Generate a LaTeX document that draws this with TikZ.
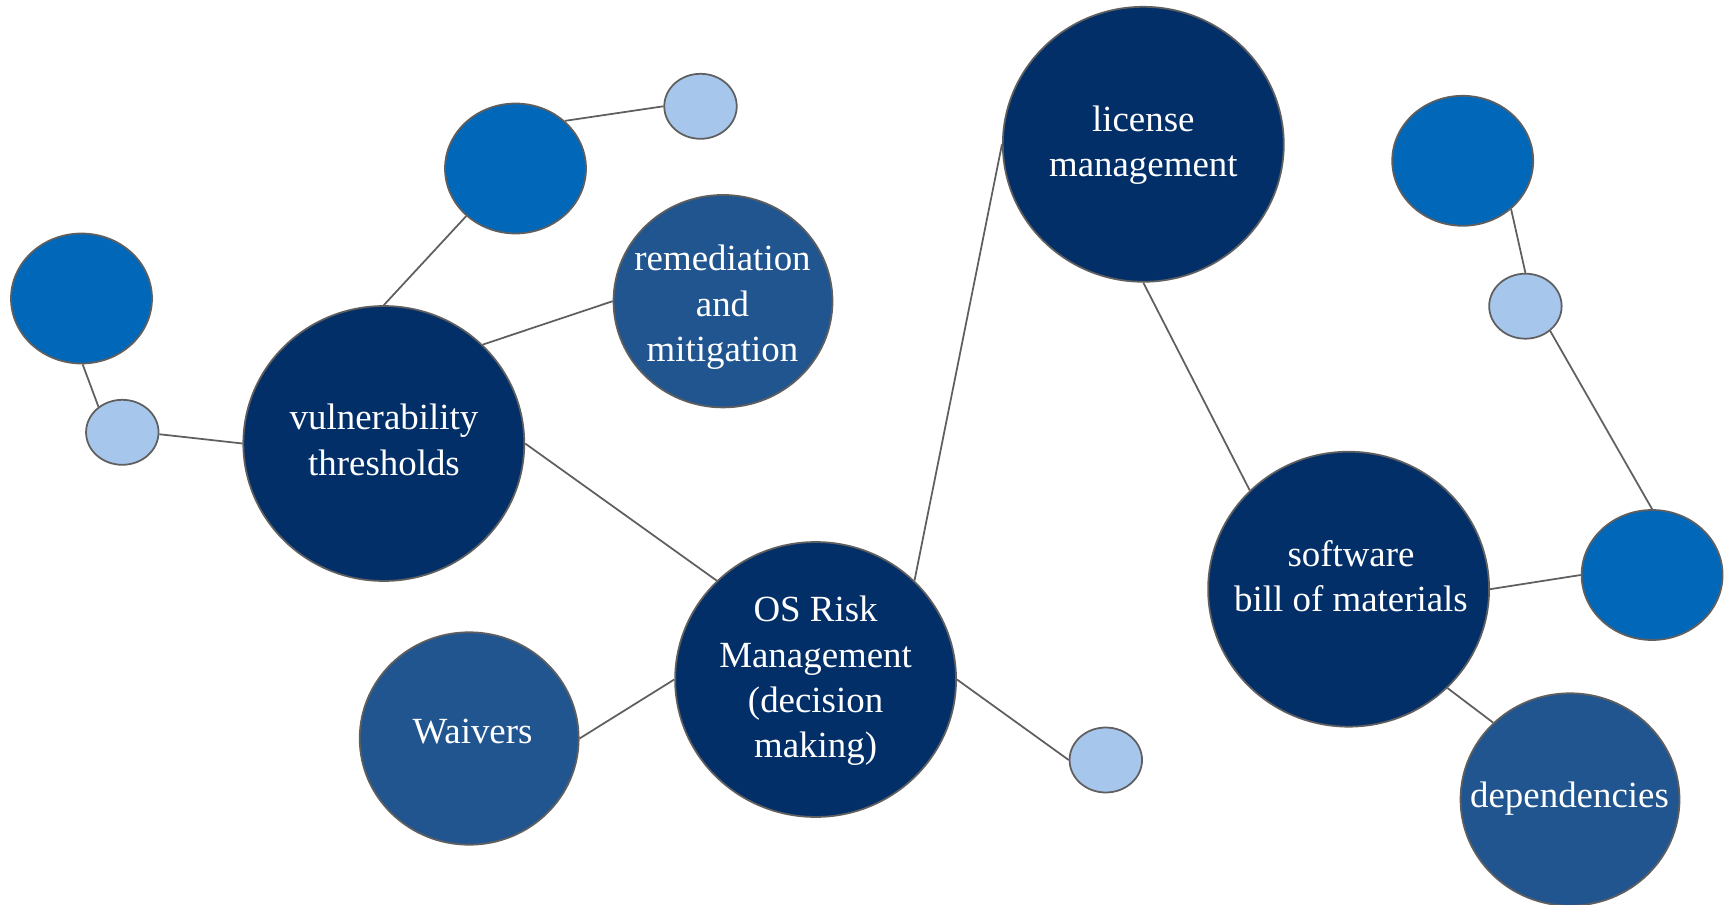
\documentclass[tikz,border=0pt]{standalone}
\usepackage{fontspec}
\setmainfont{Liberation Serif}
\usetikzlibrary{shapes.geometric}
\definecolor{navy}{RGB}{3,47,105}
\definecolor{midblue}{RGB}{33,85,144}
\definecolor{brightblue}{RGB}{0,103,185}
\definecolor{paleblue}{RGB}{167,198,236}
\definecolor{edgegray}{RGB}{95,95,95}

\begin{document}
\begin{tikzpicture}[x=0.02cm, y=-0.02cm,
		bubble/.style={ellipse, draw=edgegray, line width=1pt, inner sep=0pt},
		big/.style={bubble, fill=navy, minimum width=5.62cm, minimum height=5.5cm},
		mid/.style={bubble, fill=midblue, minimum width=4.38cm, minimum height=4.25cm},
		dot/.style={bubble, fill=brightblue, minimum width=2.82cm, minimum height=2.6cm},
		tiny/.style={bubble, fill=paleblue, minimum width=1.45cm, minimum height=1.3cm},
		txt/.style={text=white, align=center, inner sep=0pt, font=\fontsize{21}{25.8}\selectfont},
		link/.style={draw=edgegray, line width=1pt}]
		%%%%% START %%%%%
		
		\useasboundingbox (0, 0) rectangle (1727, 905);
		
		\node[big] (vuln) at (383.8, 443.5) {};
		\node[big] (osrisk) at (815.6, 679.5) {};
		\node[big] (license) at (1143.3, 144.3) {};
		\node[big] (sbom) at (1348.6, 589.2) {};
		
		\node[mid] (remed) at (723, 301.2) {};
		\node[mid] (waivers) at (469.2, 738.5) {};
		\node[mid] (depend) at (1570, 799.5) {};
		
		\node[dot] (dotA) at (515.5, 168.5) {};
		\node[dot] (dotB) at (81.5, 298.5) {};
		\node[dot] (dotC) at (1462.7, 160.8) {};
		\node[dot] (dotD) at (1652.1, 575) {};
		
		\node[tiny] (tinyA) at (700.5, 106.3) {};
		\node[tiny] (tinyB) at (122.3, 432.3) {};
		\node[tiny] (tinyC) at (1525.4, 306.2) {};
		\node[tiny] (tinyD) at (1105.8, 760) {};
		
		\draw[link] (tinyB.-3) -- (vuln.180);
		\draw[link] (dotB.-89) -- (tinyB.133);
		\draw[link] (vuln.90) -- (dotA.224);
		\draw[link] (dotA.44) -- (tinyA.180);
		\draw[link] (vuln.45) -- (remed.180);
		\draw[link] (vuln.0) -- (osrisk.135);
		\draw[link] (waivers.0) -- (osrisk.180);
		\draw[link] (osrisk.0) -- (tinyD.180);
		\draw[link] (osrisk.45) -- (license.180);
		\draw[link] (license.270) -- (sbom.135);
		\draw[link] (sbom.0) -- (dotD.180);
		\draw[link] (sbom.-45) -- (depend.135);
		\draw[link] (dotC.-45) -- (tinyC.90);
		\draw[link] (tinyC.-45) -- (dotD.90);
		
		\node[txt] (vuln-t) at (384, 440) {vulnerability\\thresholds};
		\node[txt] (osrisk-t) at (815.6, 681) {OS Risk\\Management\\(decision\\making)};
		\node[txt] (license-t) at (1143.3, 145) {license\\management};
		\node[txt] (sbom-t) at (1351, 576) {software\\bill of materials};
		\node[txt] (remed-t) at (722.5, 307.5) {remediation\\and\\mitigation};
		\node[txt] (waivers-t) at (472.5, 732) {Waivers};
		\node[txt] (depend-t) at (1569.5, 798.5) {dependencies};
		
		%%%%% END %%%%%
\end{tikzpicture}
\end{document}
